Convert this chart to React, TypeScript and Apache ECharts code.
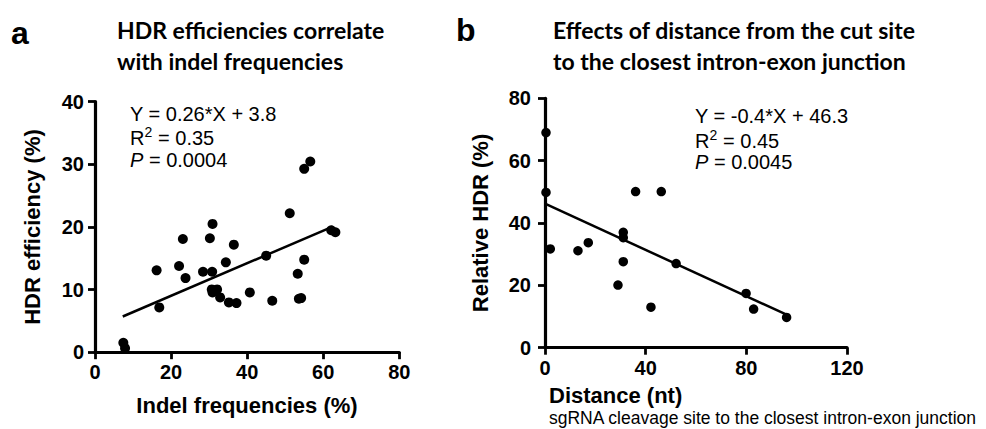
import React, { useEffect, useRef } from "react";
import * as echarts from "echarts";

// Panel a: indel frequency (%) vs HDR efficiency (%)
const indelFreq = [7.45, 7.9, 16.2, 16.9, 22.1, 23.1, 23.8, 28.4, 30.2, 30.8, 30.9, 30.7, 30.9, 32.1, 32.9, 34.4, 35.2, 36.5, 37.2, 40.7, 45.0, 46.6, 51.2, 53.3, 53.6, 54.2, 55.0, 55.0, 56.6, 62.1, 63.2];
const hdrEff = [1.49, 0.64, 13.07, 7.15, 13.76, 18.08, 11.84, 12.85, 18.19, 12.85, 20.48, 10.03, 9.55, 10.03, 8.75, 14.35, 7.95, 17.17, 7.84, 9.55, 15.41, 8.21, 22.19, 12.53, 8.53, 8.64, 14.77, 29.28, 30.45, 19.47, 19.15];
const fitAX = [7.3, 62.5];
const fitAY = [5.7, 20.05];

// Panel b: distance (nt) vs relative HDR (%)
const distance = [0.4, 0.4, 2.1, 13.1, 17.2, 29.0, 31.1, 31.1, 31.1, 36.0, 42.1, 46.2, 52.1, 79.9, 82.9, 96.0];
const relHdr = [69.0, 49.8, 31.7, 31.1, 33.7, 20.1, 37.0, 35.3, 27.6, 50.1, 13.0, 50.1, 27.0, 17.4, 12.4, 9.7];
const fitBX = [0, 96];
const fitBY = [46.2, 10.6];

const axisAX = { min: 0, max: 80, interval: 20 };
const axisAY = { min: 0, max: 40, interval: 10 };
const axisBX = { min: 0, max: 120, interval: 40 };
const axisBY = { min: 0, max: 80, interval: 20 };

const SANS = "'Liberation Sans', Arial, sans-serif";
const TITLE = "Lato, 'Open Sans', sans-serif";

function pairs(xs: number[], ys: number[]) {
  return xs.map((x, i) => [x, ys[i]]);
}

function axisCommon(cfg: { min: number; max: number; interval: number }, gridIndex: number, margin: number) {
  return {
    type: "value" as const,
    gridIndex,
    min: cfg.min,
    max: cfg.max,
    interval: cfg.interval,
    splitLine: { show: false },
    axisLine: { show: true, lineStyle: { color: "#000", width: 3.2 } },
    axisTick: { show: true, length: 7, lineStyle: { color: "#000", width: 2.8 } },
    axisLabel: {
      color: "#000",
      fontSize: 20,
      fontWeight: "bold" as const,
      fontFamily: SANS,
      margin,
    },
  };
}

function txt(x: number, y: number, text: string, opts: any = {}) {
  return {
    type: "text",
    x,
    y,
    rotation: opts.rotation || 0,
    style: {
      text,
      fill: "#000",
      fontSize: opts.fontSize || 20,
      fontWeight: opts.fontWeight || "normal",
      fontStyle: opts.fontStyle || "normal",
      fontFamily: opts.fontFamily || SANS,
      align: opts.align || "left",
      verticalAlign: opts.verticalAlign || "middle",
    },
  };
}

export default function App() {
  const ref = useRef<HTMLDivElement>(null);
  useEffect(() => {
    document.body.style.margin = "0";
    const chart = echarts.init(ref.current!, null, { renderer: "svg" });
    const option = {
      animation: false,
      backgroundColor: "#fff",
      grid: [
        { left: 95, top: 101.7, width: 304.3, height: 250.5 },
        { left: 545, top: 98.3, width: 302, height: 249.4 },
      ],
      xAxis: [axisCommon(axisAX, 0, 10), axisCommon(axisBX, 1, 10)],
      yAxis: [axisCommon(axisAY, 0, 11), axisCommon(axisBY, 1, 14)],
      series: [
        {
          type: "scatter",
          xAxisIndex: 0,
          yAxisIndex: 0,
          data: pairs(indelFreq, hdrEff),
          symbolSize: 10,
          itemStyle: { color: "#000", opacity: 1 },
          clip: false,
          z: 3,
        },
        {
          type: "line",
          xAxisIndex: 0,
          yAxisIndex: 0,
          data: pairs(fitAX, fitAY),
          symbol: "none",
          lineStyle: { color: "#000", width: 2.5 },
          z: 2,
        },
        {
          type: "scatter",
          xAxisIndex: 1,
          yAxisIndex: 1,
          data: pairs(distance, relHdr),
          symbolSize: 9.5,
          itemStyle: { color: "#000", opacity: 1 },
          clip: false,
          z: 3,
        },
        {
          type: "line",
          xAxisIndex: 1,
          yAxisIndex: 1,
          data: pairs(fitBX, fitBY),
          symbol: "none",
          lineStyle: { color: "#000", width: 2.5 },
          z: 2,
        },
      ],
      graphic: [
        // panel letters
        txt(11, 33, "a", { fontSize: 32, fontWeight: "bold" }),
        txt(456, 30, "b", { fontSize: 32, fontWeight: "bold" }),
        // titles
        txt(117, 30, "HDR efficiencies correlate", { fontSize: 23, fontWeight: "bold", fontFamily: TITLE }),
        txt(117, 61, "with indel frequencies", { fontSize: 23, fontWeight: "bold", fontFamily: TITLE }),
        txt(553, 30, "Effects of distance from the cut site", { fontSize: 23, fontWeight: "bold", fontFamily: TITLE }),
        txt(553, 61, "to the closest intron-exon junction", { fontSize: 23, fontWeight: "bold", fontFamily: TITLE }),
        // axis names
        txt(247, 405.5, "Indel frequencies (%)", { fontSize: 22, fontWeight: "bold", align: "center" }),
        txt(32, 227, "HDR efficiency (%)", { fontSize: 22, fontWeight: "bold", align: "center", rotation: Math.PI / 2 }),
        txt(549, 395.5, "Distance (nt)", { fontSize: 22, fontWeight: "bold" }),
        txt(549, 418, "sgRNA cleavage site to the closest intron-exon junction", { fontSize: 17.5 }),
        txt(480, 223, "Relative HDR (%)", { fontSize: 22, fontWeight: "bold", align: "center", rotation: Math.PI / 2 }),
        // annotations a
        txt(130, 114.2, "Y = 0.26*X + 3.8"),
        txt(130, 137.5, "R"),
        txt(144.6, 131.5, "2", { fontSize: 14 }),
        txt(152.5, 137.5, " = 0.35"),
        txt(130, 159.5, "P", { fontStyle: "italic" }),
        txt(143.4, 159.5, " = 0.0004"),
        // annotations b
        txt(695, 115.5, "Y = -0.4*X + 46.3"),
        txt(695, 140.8, "R"),
        txt(709.6, 134.8, "2", { fontSize: 14 }),
        txt(717.5, 140.8, " = 0.45"),
        txt(695, 161.5, "P", { fontStyle: "italic" }),
        txt(708.4, 161.5, " = 0.0045"),
      ],
    };
    chart.setOption(option as any);
    return () => chart.dispose();
  }, []);
  return <div ref={ref} style={{ width: 986, height: 429 }} />;
}
